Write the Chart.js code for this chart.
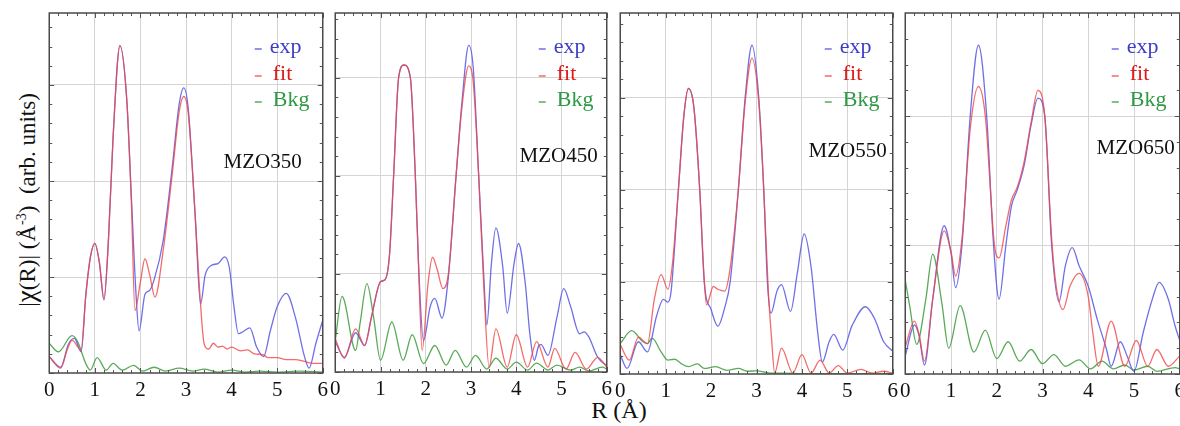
<!DOCTYPE html>
<html>
<head>
<meta charset="utf-8">
<script src="https://cdn.jsdelivr.net/npm/chart.js@4.4.1/dist/chart.umd.min.js"></script>
<style>
  body { margin: 0; width: 1180px; height: 426px; overflow: hidden; background: #fff; position: relative;
         font-family: "Liberation Serif", "Times New Roman", serif; }
  canvas { position: absolute; }
  #ytitle { position: absolute; left: 26px; top: 200px; transform: translate(-50%, -50%) rotate(-90deg);
            font-size: 23px; white-space: nowrap; color: #111; }
  #ytitle .chi { font-size: 27px; }
  #ytitle sup { font-size: 14px; }
  #xtitle { position: absolute; left: 619px; top: 410px; transform: translate(-50%, -50%);
            font-size: 24px; white-space: nowrap; color: #111; }
</style>
</head>
<body>
<div id="ytitle">|<span class="chi">χ</span>(R)| (Å<sup>-3</sup>)&nbsp; (arb. units)</div>
<div id="xtitle">R (Å)</div>
<script>
document.addEventListener('DOMContentLoaded', () => {

    // --- data: [R, |chi(R)|] (arb. units, 1 = one grid step) ---
    const tickLabels = ['0', '1', '2', '3', '4', '5', '6'];
    const sampleNames = ['MZO350', 'MZO450', 'MZO550', 'MZO650'];
    const seriesNames = ['exp', 'fit', 'Bkg'];

    const exp350 = [[0,0.17],[0.25,0.06],[0.42,0.3],[0.55,0.36],[0.7,0.22],[0.8,0.8],[0.9,1.2],[1.0,1.35],[1.1,1.15],[1.2,0.76],
        [1.3,1.4],[1.4,2.45],[1.55,3.41],[1.7,2.85],[1.8,1.85],[1.9,0.85],[1.97,0.44],[2.1,0.82],[2.2,0.86],[2.3,0.97],
        [2.5,1.38],[2.7,2.15],[2.85,2.8],[2.95,2.97],[3.05,2.75],[3.2,1.65],[3.32,0.72],[3.42,1.02],[3.55,1.12],[3.7,1.14],
        [3.85,1.21],[3.95,1.1],[4.05,0.7],[4.15,0.41],[4.25,0.43],[4.4,0.47],[4.55,0.27],[4.7,0.17],[4.85,0.44],[5.0,0.69],
        [5.2,0.83],[5.4,0.58],[5.6,0.17],[5.7,0.05],[5.85,0.31],[6.0,0.55]];
    const fit350 = [[0,0.17],[0.25,0.05],[0.4,0.25],[0.5,0.34],[0.7,0.24],[0.8,0.8],[0.9,1.2],[1.0,1.35],[1.1,1.15],[1.2,0.77],
        [1.3,1.4],[1.4,2.45],[1.55,3.41],[1.7,2.85],[1.8,1.8],[1.88,0.65],[2.0,0.95],[2.1,1.19],[2.2,1.03],[2.32,0.79],
        [2.5,1.28],[2.7,2.08],[2.85,2.72],[2.95,2.88],[3.05,2.7],[3.2,1.65],[3.3,0.85],[3.4,0.3],[3.5,0.25],[3.6,0.31],
        [3.7,0.27],[3.8,0.28],[3.9,0.25],[4.0,0.27],[4.2,0.23],[4.35,0.24],[4.5,0.2],[4.7,0.19],[4.8,0.16],[5.0,0.16],
        [5.2,0.14],[5.4,0.14],[5.6,0.12],[5.8,0.1],[6.0,0.1]];
    const bkg350 = [[0,0.31],[0.2,0.22],[0.5,0.39],[0.62,0.33],[0.8,0.1],[0.9,0.03],[1.05,0.16],[1.25,0.03],[1.4,0.1],[1.6,0.03],
        [1.85,0.08],[2.05,0.02],[2.3,0.06],[2.55,0.02],[2.85,0.05],[3.15,0.02],[3.4,0.04],[3.7,0.01],[4.0,0.03],[4.3,0.01],
        [4.6,0.02],[5.0,0.01],[5.5,0.02],[6.0,0.01]];

    const exp450 = [[0,0.31],[0.2,0.15],[0.45,0.4],[0.65,0.27],[0.8,0.56],[1.0,0.92],[1.1,0.94],[1.2,1.2],[1.29,2.0],[1.4,3.0],
        [1.52,3.13],[1.66,3.0],[1.77,2.0],[1.85,1.0],[1.95,0.32],[2.1,0.67],[2.2,0.75],[2.36,0.55],[2.5,0.97],[2.67,2.0],
        [2.8,2.75],[2.95,3.33],[3.05,3.1],[3.17,2.0],[3.28,1.0],[3.35,0.48],[3.45,1.1],[3.55,1.47],[3.7,1.08],[3.8,0.6],
        [3.95,1.1],[4.05,1.31],[4.2,0.9],[4.3,0.39],[4.4,0.12],[4.5,0.27],[4.55,0.28],[4.7,0.17],[4.9,0.56],[5.05,0.85],
        [5.2,0.67],[5.4,0.39],[5.5,0.41],[5.6,0.36],[5.8,0.15],[5.9,0.1],[6.0,0.07]];
    const fit450 = [[0,0.34],[0.2,0.14],[0.45,0.44],[0.65,0.27],[0.8,0.56],[1.0,0.92],[1.1,0.94],[1.2,1.2],[1.29,2.0],[1.4,3.0],
        [1.52,3.13],[1.66,3.0],[1.77,2.0],[1.85,0.95],[1.92,0.22],[2.05,0.9],[2.15,1.17],[2.25,1.05],[2.38,0.85],[2.5,1.0],
        [2.67,2.0],[2.8,2.7],[2.95,3.12],[3.05,2.95],[3.17,2.0],[3.28,0.9],[3.4,0.05],[3.55,0.44],[3.8,0.05],[4.0,0.38],
        [4.25,0.05],[4.45,0.31],[4.7,0.05],[4.85,0.24],[5.1,0.03],[5.3,0.2],[5.55,0.03],[5.8,0.15],[6.0,0.05]];
    const bkg450 = [[0,0.32],[0.15,0.77],[0.45,0.22],[0.55,0.5],[0.7,0.9],[0.85,0.55],[1.0,0.12],[1.25,0.51],[1.5,0.12],[1.7,0.38],
        [1.95,0.085],[2.2,0.27],[2.45,0.07],[2.65,0.22],[2.9,0.05],[3.1,0.17],[3.35,0.03],[3.55,0.14],[3.8,0.03],[4.0,0.1],
        [4.25,0.02],[4.45,0.09],[4.7,0.02],[4.9,0.07],[5.2,0.02],[5.4,0.05],[5.6,0.01],[5.9,0.05],[6.0,0.03]];

    const exp550 = [[0,0.21],[0.15,0.06],[0.4,0.35],[0.6,0.24],[0.8,0.63],[0.95,0.81],[1.05,0.78],[1.12,0.9],[1.28,2.0],[1.4,2.8],
        [1.5,3.1],[1.62,2.9],[1.75,2.0],[1.85,1.0],[2.0,0.7],[2.15,0.52],[2.3,0.72],[2.42,1.0],[2.6,2.0],[2.75,3.0],
        [2.9,3.57],[3.05,3.0],[3.16,2.0],[3.24,1.0],[3.32,0.66],[3.45,0.9],[3.55,0.97],[3.75,0.68],[3.9,1.1],[4.05,1.52],
        [4.2,1.17],[4.35,0.44],[4.45,0.13],[4.6,0.35],[4.7,0.43],[4.9,0.26],[5.1,0.52],[5.4,0.73],[5.6,0.6],[5.8,0.35],[6.0,0.25]];
    const fit550 = [[0,0.32],[0.2,0.15],[0.4,0.4],[0.6,0.33],[0.75,0.81],[0.9,1.08],[1.05,0.92],[1.15,1.2],[1.28,2.0],[1.4,2.8],
        [1.5,3.1],[1.62,2.9],[1.75,2.0],[1.84,1.1],[1.9,0.75],[2.05,0.95],[2.15,0.92],[2.3,0.9],[2.42,1.15],[2.6,2.0],
        [2.75,2.95],[2.9,3.43],[3.05,2.95],[3.16,2.0],[3.26,0.9],[3.33,0.4],[3.4,0.01],[3.55,0.28],[3.8,0.01],[4.0,0.21],
        [4.2,0.01],[4.4,0.15],[4.6,0.01],[4.8,0.09],[5.0,0.01],[5.3,0.05],[5.55,0.01],[5.8,0.03],[6.0,0.01]];
    const bkg550 = [[0,0.33],[0.25,0.47],[0.5,0.35],[0.6,0.33],[0.7,0.39],[0.9,0.24],[1.05,0.15],[1.2,0.16],[1.35,0.11],[1.5,0.08],
        [1.7,0.11],[1.85,0.06],[2.1,0.08],[2.35,0.04],[2.6,0.06],[2.8,0.03],[3.0,0.035],[3.3,0.01],[3.6,0.01],[4.0,0.005],[6.0,0.005]];

    const exp650 = [[0,0.14],[0.2,0.38],[0.3,0.3],[0.42,0.07],[0.6,0.58],[0.85,1.15],[1.0,0.94],[1.1,0.67],[1.24,1.0],[1.42,2.0],
        [1.6,2.55],[1.78,2.0],[1.93,1.0],[2.05,0.58],[2.2,1.0],[2.32,1.3],[2.45,1.43],[2.6,1.62],[2.75,1.93],[2.9,2.14],
        [3.05,2.0],[3.2,1.0],[3.36,0.56],[3.5,0.84],[3.65,0.98],[3.8,0.84],[4.0,0.68],[4.2,0.42],[4.4,0.19],[4.5,0.06],
        [4.7,0.25],[4.85,0.14],[5.0,0.02],[5.2,0.32],[5.4,0.58],[5.55,0.71],[5.75,0.58],[5.9,0.37],[6.0,0.26]];
    const fit650 = [[0,0.21],[0.2,0.41],[0.3,0.31],[0.42,0.1],[0.6,0.58],[0.85,1.11],[1.0,0.95],[1.1,0.76],[1.24,1.05],[1.42,1.9],
        [1.6,2.23],[1.75,2.0],[1.95,1.0],[2.05,0.9],[2.2,1.15],[2.32,1.35],[2.45,1.45],[2.6,1.65],[2.75,1.95],[2.9,2.2],
        [3.05,2.0],[3.2,1.05],[3.3,0.68],[3.45,0.5],[3.6,0.68],[3.8,0.78],[4.0,0.6],[4.1,0.32],[4.22,0.06],[4.5,0.41],
        [4.8,0.06],[5.05,0.26],[5.3,0.06],[5.5,0.19],[5.75,0.06],[6.0,0.14]];
    const bkg650 = [[0,0.73],[0.1,0.52],[0.25,0.23],[0.45,0.58],[0.6,0.93],[0.8,0.55],[0.95,0.2],[1.2,0.53],[1.5,0.17],[1.75,0.34],
        [2.0,0.12],[2.25,0.25],[2.5,0.1],[2.75,0.19],[3.0,0.08],[3.25,0.15],[3.5,0.06],[3.8,0.11],[4.05,0.04],[4.3,0.1],
        [4.55,0.04],[4.8,0.07],[5.0,0.03],[5.3,0.06],[5.5,0.02],[5.9,0.05],[6.0,0.04]];

    const yMaxes = [3.75, 3.66, 3.92, 2.8];

    // --- layout (pixels of the plot areas) ---
    const boxes = [
        { L: 49,  T: 13, R: 323,  B: 373, nameDx: 21, nameDy: 155 },
        { L: 335, T: 13, R: 607,  B: 372, nameDx: 9,  nameDy: 149 },
        { L: 620, T: 13, R: 893,  B: 374, nameDx: 6,  nameDy: 144 },
        { L: 905, T: 13, R: 1180, B: 374, nameDx: 5,  nameDy: 141 }
    ];
    const PAD = 10, AXIS_H = 40;
    const SERIF = '"Liberation Serif", "Times New Roman", serif';

    const lineColors = ['rgba(95,95,230,0.9)', 'rgba(240,70,70,0.8)', 'rgba(60,155,60,0.85)'];
    const textColors = ['#3c3cc8', '#e01818', '#2f9a45'];

    const panelData = [
        [exp350, fit350, bkg350],
        [exp450, fit450, bkg450],
        [exp550, fit550, bkg550],
        [exp650, fit650, bkg650]
    ];

    const toPts = arr => arr.map(([x, y]) => ({ x, y }));

    // frame + inside ticks + legend + sample name
    const decor = {
        id: 'decor',
        afterDraw(chart, args, opts) {
            const { ctx, chartArea: a, scales: { x, y } } = chart;
            ctx.save();
            ctx.strokeStyle = '#555';
            ctx.lineWidth = 1;
            ctx.beginPath();
            for (let i = 0; i <= 30; i++) {
                const px = Math.round(x.getPixelForValue(i * 0.2)) + 0.5;
                const len = i % 5 === 0 ? 5 : 3;
                ctx.moveTo(px, a.bottom); ctx.lineTo(px, a.bottom - len);
                ctx.moveTo(px, a.top); ctx.lineTo(px, a.top + len);
            }
            for (let j = 0; j * 0.2 <= opts.yMax; j++) {
                const py = Math.round(y.getPixelForValue(j * 0.2)) + 0.5;
                const len = j % 5 === 0 ? 5 : 3;
                ctx.moveTo(a.left, py); ctx.lineTo(a.left + len, py);
                ctx.moveTo(a.right, py); ctx.lineTo(a.right - len, py);
            }
            ctx.stroke();

            ctx.strokeStyle = '#4a4a4a';
            ctx.lineWidth = 1.5;
            ctx.strokeRect(a.left, a.top, a.right - a.left, a.bottom - a.top);

            // legend
            const baselines = [40, 67, 93];
            const textX = [53, 50, 50];
            ctx.font = '22px ' + SERIF;
            ctx.textBaseline = 'alphabetic';
            ctx.textAlign = 'left';
            seriesNames.forEach((name, k) => {
                const by = a.top + baselines[k];
                ctx.strokeStyle = lineColors[k];
                ctx.lineWidth = 1.5;
                ctx.beginPath();
                ctx.moveTo(a.right - 68, by - 4);
                ctx.lineTo(a.right - 61, by - 4);
                ctx.stroke();
                ctx.fillStyle = textColors[k];
                ctx.fillText(name, a.right - textX[k], by);
            });

            // sample name
            ctx.font = '21px ' + SERIF;
            ctx.fillStyle = '#111';
            ctx.textAlign = 'right';
            ctx.fillText(opts.name, a.right - opts.nameDx, a.top + opts.nameDy);
            ctx.restore();
        }
    };

    const drawPanels = () => {
        boxes.forEach((b, i) => {
            const cv = document.createElement('canvas');
            cv.width = (b.R - b.L) + 2 * PAD;
            cv.height = (b.B - b.T) + PAD + AXIS_H;
            cv.style.left = (b.L - PAD) + 'px';
            cv.style.top = (b.T - PAD) + 'px';
            document.body.appendChild(cv);

            const yMax = yMaxes[i];
            const [e, f, g] = panelData[i];
            const common = { borderWidth: 1.3, pointRadius: 0, fill: false, cubicInterpolationMode: 'monotone' };

            new Chart(cv.getContext('2d'), {
                type: 'line',
                data: {
                    datasets: [
                        { label: seriesNames[0], data: toPts(e), borderColor: lineColors[0], order: 1, ...common },
                        { label: seriesNames[1], data: toPts(f), borderColor: lineColors[1], order: 0, ...common },
                        { label: seriesNames[2], data: toPts(g), borderColor: lineColors[2], order: 2, ...common }
                    ]
                },
                options: {
                    responsive: false,
                    animation: false,
                    events: [],
                    layout: { padding: { left: PAD, right: PAD, top: PAD, bottom: 0 } },
                    plugins: {
                        legend: { display: false },
                        tooltip: { enabled: false },
                        decor: { yMax: yMax, name: sampleNames[i], nameDx: b.nameDx, nameDy: b.nameDy }
                    },
                    scales: {
                        x: {
                            type: 'linear', min: 0, max: 6,
                            afterFit: s => { s.height = AXIS_H; },
                            ticks: {
                                stepSize: 1, padding: 5, color: '#111', maxRotation: 0,
                                font: { family: SERIF, size: 21 },
                                callback: v => tickLabels[v]
                            },
                            grid: {
                                drawTicks: false, lineWidth: 1,
                                color: c => (c.tick.value > 0 && c.tick.value < 6) ? '#d4d4d4' : 'rgba(0,0,0,0)'
                            },
                            border: { display: false }
                        },
                        y: {
                            min: 0, max: yMax,
                            afterFit: s => { s.width = 0; },
                            ticks: { display: false, stepSize: 1 },
                            grid: {
                                drawTicks: false, lineWidth: 1,
                                color: c => (Number.isInteger(c.tick.value) && c.tick.value > 0) ? '#d4d4d4' : 'rgba(0,0,0,0)'
                            },
                            border: { display: false }
                        }
                    }
                },
                plugins: [decor]
            });
        });
    };

    // make sure the serif face is ready before the canvases use it
    Promise.all([
        document.fonts.load('21px "Liberation Serif"'),
        document.fonts.load('22px "Liberation Serif"')
    ]).then(drawPanels, drawPanels);
});
</script>
</body>
</html>
